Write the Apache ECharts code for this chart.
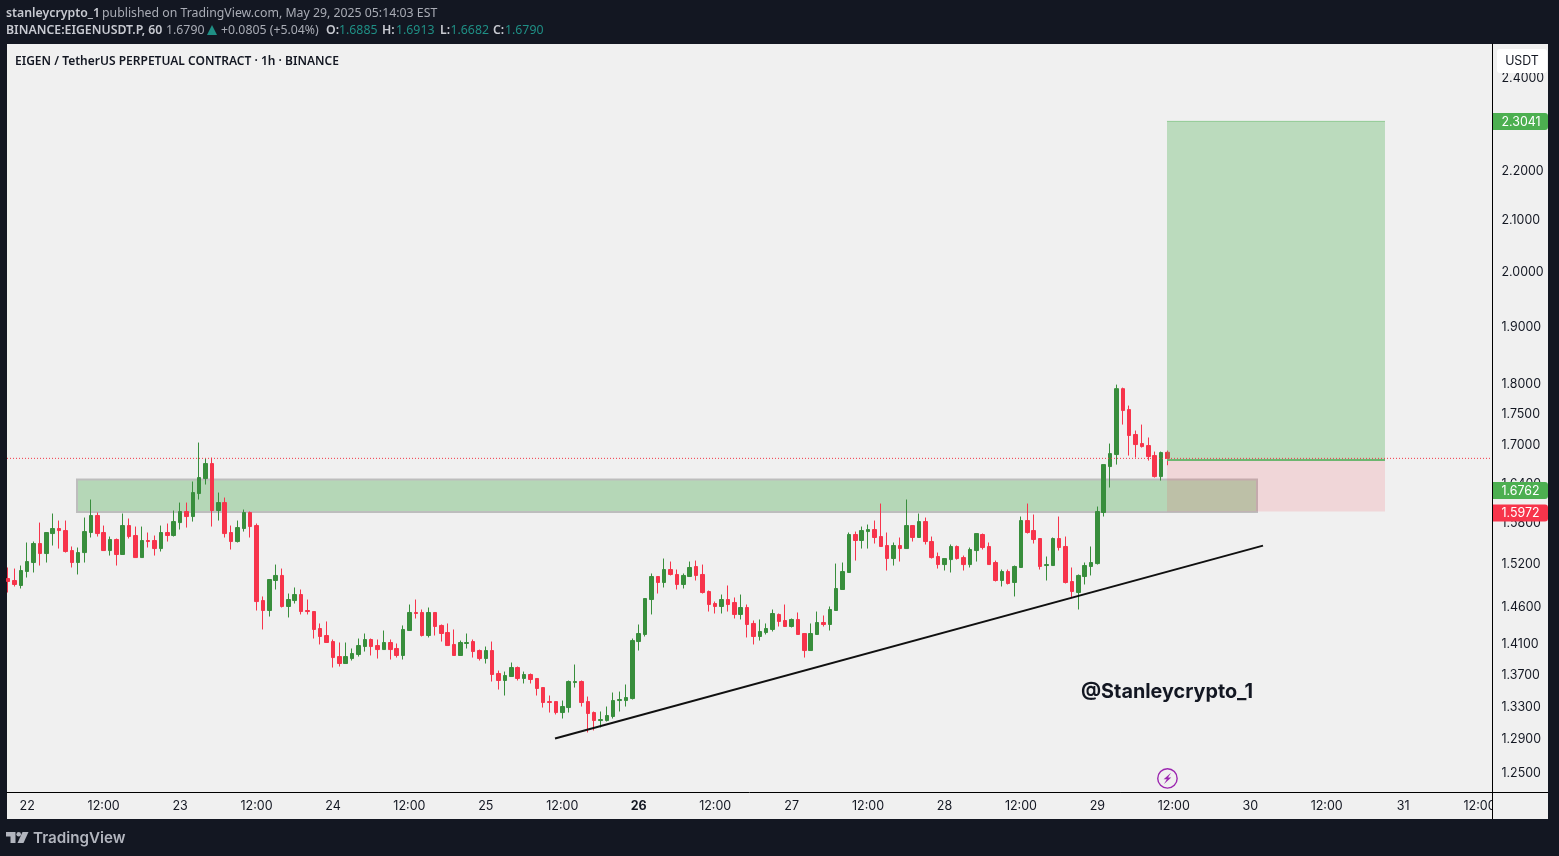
<!DOCTYPE html>
<html>
<head>
<meta charset="utf-8">
<title>EIGENUSDT.P 1h</title>
<style>
html,body{margin:0;padding:0;background:#131722;}
#sample{width:1559px;height:856px;}
</style>
<script src="https://cdn.jsdelivr.net/npm/echarts@6/dist/echarts.min.js"></script>
</head>
<body>
<div id="sample"></div>
<script>
// hourly candles, first one is 21 May 21:00 (hour -3 counted from 22 May 00:00)
var firstHour = -3;
var opens = [
	1.4998,1.4970,1.4900,1.5097,1.5225,1.5499,1.5354,1.5645,1.5719,1.5689,
	1.5397,1.5225,1.5368,1.5660,1.5912,1.5660,1.5397,1.5558,1.5340,1.5763,
	1.5616,1.5296,1.5543,1.5543,1.5426,1.5660,1.5616,1.5807,1.5972,1.5897,
	1.6244,1.6474,1.6708,1.5987,1.6107,1.5660,1.5528,1.5719,1.5957,1.5763,
	1.4691,1.4554,1.4970,1.5041,1.4609,1.4691,1.4774,1.4554,1.4540,1.4310,
	1.4216,1.4136,1.3938,1.3847,1.3912,1.3965,1.4070,1.4163,1.4083,1.4030,
	1.4123,1.4044,1.3952,1.4283,1.4527,1.4527,1.4216,1.4527,1.4351,1.4256,
	1.4097,1.3952,1.4110,1.4136,1.4017,1.3912,1.4017,1.3718,1.3628,1.3679,
	1.3795,1.3654,1.3705,1.3654,1.3538,1.3361,1.3361,1.3224,1.3286,1.3602,
	1.3615,1.3361,1.3224,1.3125,1.3125,1.3175,1.3374,1.3374,1.3399,1.4136,
	1.4230,1.4705,1.5026,1.4942,1.5125,1.5055,1.4914,1.5026,1.5168,1.5055,
	1.4816,1.4650,1.4609,1.4705,1.4664,1.4500,1.4595,1.4378,1.4203,1.4256,
	1.4297,1.4500,1.4418,1.4337,1.4432,1.4243,1.4017,1.4230,1.4391,1.4364,
	1.4554,1.4844,1.5083,1.5631,1.5543,1.5674,1.5704,1.5601,1.5470,1.5282,
	1.5470,1.5426,1.5763,1.5587,1.5822,1.5528,1.5311,1.5196,1.5267,1.5456,
	1.5296,1.5196,1.5397,1.5631,1.5456,1.5225,1.4970,1.5097,1.4942,1.5154,
	1.5837,1.5689,1.5572,1.5182,1.5182,1.5572,1.5456,1.4956,1.4802,1.5026,
	1.5168,1.5210,1.5957,1.6661,1.6850,1.7926,1.7577,1.7170,1.7025,1.6993,
	1.6834,1.6505,1.6885
];
var closes = [
	1.4956,1.4914,1.5111,1.5239,1.5499,1.5354,1.5660,1.5719,1.5689,1.5383,
	1.5225,1.5368,1.5674,1.5912,1.5645,1.5397,1.5558,1.5340,1.5763,1.5601,
	1.5296,1.5543,1.5528,1.5426,1.5660,1.5616,1.5822,1.5972,1.5897,1.6259,
	1.6490,1.6708,1.5987,1.6107,1.5645,1.5528,1.5733,1.5957,1.5748,1.4677,
	1.4554,1.4984,1.5041,1.4609,1.4705,1.4774,1.4540,1.4540,1.4297,1.4203,
	1.4123,1.3925,1.3847,1.3938,1.3978,1.4083,1.4163,1.4070,1.4030,1.4123,
	1.4030,1.3952,1.4297,1.4527,1.4513,1.4216,1.4527,1.4337,1.4243,1.4083,
	1.3952,1.4123,1.4123,1.4004,1.3912,1.4017,1.3705,1.3628,1.3692,1.3795,
	1.3654,1.3705,1.3641,1.3526,1.3349,1.3349,1.3224,1.3299,1.3615,1.3615,
	1.3349,1.3212,1.3125,1.3137,1.3187,1.3374,1.3387,1.3412,1.4149,1.4243,
	1.4719,1.5026,1.4942,1.5125,1.5055,1.4914,1.5041,1.5154,1.5041,1.4802,
	1.4636,1.4609,1.4705,1.4636,1.4500,1.4595,1.4364,1.4203,1.4270,1.4310,
	1.4513,1.4405,1.4337,1.4432,1.4230,1.4017,1.4243,1.4391,1.4364,1.4568,
	1.4858,1.5097,1.5631,1.5543,1.5689,1.5704,1.5587,1.5456,1.5282,1.5470,
	1.5426,1.5763,1.5587,1.5822,1.5528,1.5296,1.5196,1.5282,1.5456,1.5282,
	1.5196,1.5412,1.5645,1.5441,1.5196,1.4970,1.5097,1.4928,1.5168,1.5837,
	1.5660,1.5558,1.5168,1.5196,1.5572,1.5441,1.4942,1.4816,1.5041,1.5182,
	1.5225,1.5972,1.6692,1.6865,1.7926,1.7561,1.7154,1.7009,1.6977,1.6818,
	1.6505,1.6881,1.6790
];
var lows = [
	1.4802,1.4886,1.4858,1.5012,1.5083,1.5182,1.5225,1.5470,1.5426,1.5368,
	1.5154,1.5055,1.5225,1.5587,1.5601,1.5397,1.5325,1.5182,1.5340,1.5572,
	1.5296,1.5296,1.5441,1.5325,1.5383,1.5528,1.5601,1.5704,1.5733,1.5822,
	1.6153,1.6382,1.5748,1.5837,1.5587,1.5412,1.5514,1.5674,1.5587,1.4554,
	1.4297,1.4472,1.4844,1.4595,1.4459,1.4650,1.4500,1.4500,1.4176,1.4097,
	1.4123,1.3795,1.3808,1.3847,1.3886,1.3938,1.4004,1.3952,1.3912,1.4030,
	1.3899,1.3925,1.3899,1.4283,1.4445,1.4203,1.4190,1.4216,1.4136,1.4083,
	1.3952,1.3952,1.4044,1.3925,1.3886,1.3847,1.3615,1.3513,1.3437,1.3679,
	1.3628,1.3590,1.3590,1.3437,1.3286,1.3224,1.3200,1.3150,1.3224,1.3538,
	1.3299,1.2979,1.3003,1.3040,1.3113,1.3150,1.3237,1.3299,1.3387,1.4017,
	1.4203,1.4500,1.4788,1.4872,1.5041,1.4844,1.4858,1.5026,1.4970,1.4788,
	1.4540,1.4513,1.4513,1.4540,1.4445,1.4432,1.4190,1.4097,1.4149,1.4230,
	1.4270,1.4337,1.4337,1.4324,1.4230,1.3925,1.4017,1.4230,1.4337,1.4283,
	1.4554,1.4844,1.5083,1.5253,1.5426,1.5426,1.5499,1.5456,1.5111,1.5182,
	1.5239,1.5426,1.5528,1.5587,1.5485,1.5282,1.5139,1.5111,1.5083,1.5267,
	1.5111,1.5154,1.5239,1.5412,1.5196,1.4956,1.4886,1.4914,1.4747,1.5154,
	1.5645,1.5499,1.5125,1.4970,1.5182,1.5397,1.4928,1.4733,1.4568,1.4914,
	1.5041,1.5196,1.5897,1.6336,1.6692,1.7331,1.6834,1.6802,1.6961,1.6755,
	1.6490,1.6443,1.6682
];
var highs = [
	1.5154,1.5139,1.5182,1.5514,1.5528,1.5807,1.5660,1.5942,1.5837,1.5837,
	1.5456,1.5441,1.5882,1.6153,1.5957,1.5763,1.5601,1.5572,1.5942,1.5867,
	1.5748,1.5748,1.5660,1.5616,1.5763,1.5793,1.5987,1.6107,1.6107,1.6428,
	1.7041,1.6787,1.6802,1.6259,1.6183,1.5763,1.5837,1.6002,1.5972,1.5793,
	1.4747,1.4984,1.5196,1.5139,1.4788,1.4872,1.4844,1.4705,1.4540,1.4378,
	1.4405,1.4163,1.4123,1.4123,1.4044,1.4176,1.4243,1.4176,1.4163,1.4283,
	1.4163,1.4110,1.4351,1.4636,1.4705,1.4568,1.4595,1.4527,1.4364,1.4378,
	1.4297,1.4149,1.4243,1.4163,1.4030,1.4070,1.4136,1.3756,1.3743,1.3860,
	1.3808,1.3743,1.3718,1.3654,1.3538,1.3437,1.3361,1.3374,1.3628,1.3834,
	1.3628,1.3424,1.3237,1.3237,1.3299,1.3475,1.3487,1.3577,1.4176,1.4364,
	1.4719,1.5069,1.5026,1.5282,1.5239,1.5125,1.5069,1.5239,1.5253,1.5196,
	1.4830,1.4677,1.4774,1.4900,1.4733,1.4774,1.4636,1.4418,1.4432,1.4378,
	1.4568,1.4513,1.4636,1.4445,1.4527,1.4243,1.4378,1.4540,1.4486,1.4609,
	1.5210,1.5225,1.5660,1.5674,1.5748,1.5778,1.5837,1.6092,1.5660,1.5514,
	1.5587,1.6153,1.5763,1.5942,1.5882,1.5601,1.5368,1.5282,1.5485,1.5470,
	1.5325,1.5441,1.5645,1.5645,1.5514,1.5253,1.5125,1.5125,1.5182,1.5897,
	1.6092,1.5927,1.5572,1.5311,1.5587,1.5897,1.5601,1.5154,1.5055,1.5225,
	1.5456,1.6047,1.6692,1.7025,1.7994,1.7943,1.7643,1.7234,1.7331,1.7122,
	1.6897,1.6897,1.6913
];
var lastPrice = 1.6790;
var priceTicks = [2.4,2.2,2.1,2.0,1.9,1.8,1.75,1.7,1.64,1.58,1.52,1.46,1.41,1.37,1.33,1.29,1.25];
var hourTicks = [0,12,24,36,48,60,72,84,96,108,120,132,144,156,168,180,192,204,216,228];
var boldDay = 96;
var hourMin = -3.17;
var hourMax = 229.95;
var entryPrice = 1.6762;
var targetPrice = 2.3041;
var stopPrice = 1.5972;
var positionHours = [178.93,213.15];
var zoneHours = [7.82,193.06];
var zonePrices = [1.6458,1.5966];
var trendLine = [[82.86,1.2906],[194.0,1.5469]];
// the label of the entry is pushed down by the chart, so it sits lower than its price
var tagPrices = [2.3041,1.6290,1.5950];
var tagTexts = ['2.3041','1.6762','1.5972'];
var tagColors = ['#4caf50','#4caf50','#f7344b'];
var alertPoint = [179.0,1.2430];

var upColor = '#388e3c';
var downColor = '#f7344b';
var labelFont = 'Inter, "Noto Sans", sans-serif';
var headFont = '"Noto Sans", "Open Sans", sans-serif';
var headBold = '600 12.3px ' + headFont;
var headPlain = '12.3px ' + headFont;
var headName = '#c8cad1';
var headText = '#a9acb5';
var headValue = '#1f8f85';

var candles = [];
for(var i = 0;i < opens.length;i++){
	candles.push([firstHour + i,opens[i],closes[i],lows[i],highs[i]]);
}

function rectItem(api,x1,x2,p1,p2,style){
	var a = api.coord([x1,p1]);
	var b = api.coord([x2,p2]);
	return {
		type:'rect',
		shape:{x:a[0],y:a[1],width:b[0] - a[0],height:b[1] - a[1]},
		style:style
	};
}

function renderZones(params,api){
	return rectItem(api,zoneHours[0],zoneHours[1],zonePrices[0],zonePrices[1],{fill:'#b5d7b7',stroke:'#bdbdbd',lineWidth:2});
}

function hLine(api,price,stroke,width){
	var a = api.coord([positionHours[0],price]);
	var b = api.coord([positionHours[1],price]);
	return {type:'line',shape:{x1:a[0],y1:a[1],x2:b[0],y2:b[1]},style:{stroke:stroke,lineWidth:width}};
}

function renderPosition(params,api){
	return {
		type:'group',
		children:[
			rectItem(api,positionHours[0],positionHours[1],targetPrice,entryPrice,{fill:'rgba(76,175,80,0.32)'}),
			rectItem(api,positionHours[0],positionHours[1],entryPrice,stopPrice,{fill:'rgba(242,54,69,0.14)'}),
			hLine(api,targetPrice,'rgba(76,175,80,0.5)',1),
			hLine(api,entryPrice,'#6db670',2)
		]
	};
}

function renderTick(params,api){
	var pt = api.coord([0,api.value(1)]);
	return {
		type:'text',
		style:{x:1501.5,y:pt[1] + 0.5,text:api.value(1).toFixed(4),fill:'#131722',font:'12.4px ' + labelFont,textVerticalAlign:'middle',textAlign:'left'}
	};
}

function renderTag(params,api){
	var i = params.dataIndex;
	var pt = api.coord([0,tagPrices[i]]);
	return {
		type:'group',
		children:[
			{type:'rect',shape:{x:1493,y:pt[1] - 8.5,width:55,height:17,r:[0,3,3,0]},style:{fill:tagColors[i]}},
			{type:'text',style:{x:1501.5,y:pt[1] + 0.5,text:tagTexts[i],fill:'#ffffff',font:'12.4px ' + labelFont,textVerticalAlign:'middle',textAlign:'left'}}
		]
	};
}

function renderAlert(params,api){
	var pt = api.coord([api.value(0),api.value(1)]);
	var x = pt[0],y = pt[1];
	return {
		type:'group',
		children:[
			{type:'circle',shape:{cx:x,cy:y,r:9.7},style:{fill:'none',stroke:'#9c27b0',lineWidth:1.4}},
			{type:'polygon',shape:{points:[[x + 3.6,y - 5.6],[x - 3.8,y + 0.8],[x - 0.6,y + 0.8],[x - 3.4,y + 5.6],[x + 3.8,y - 1],[x + 0.6,y - 1]]},style:{fill:'#9c27b0'}}
		]
	};
}

function headItem(x,y,text,font,fill){
	return {type:'text',z:10,silent:true,style:{x:x,y:y,text:text,font:font,fill:fill,textVerticalAlign:'middle'}};
}

var myChart = echarts.init(document.getElementById('sample'),null,{renderer:'canvas'});
myChart.setOption({
	animation:false,
	backgroundColor:'#131722',
	grid:{left:7,right:67,top:44,bottom:64,show:false},
	xAxis:{
		type:'value',
		min:hourMin,
		max:hourMax,
		splitLine:{show:false},
		axisTick:{show:false},
		axisLine:{show:true,lineStyle:{color:'#000000',width:1}},
		axisLabel:{
			customValues:hourTicks,
			margin:8,
			color:'#131722',
			fontFamily:labelFont,
			fontSize:12.5,
			formatter:function(value){
				if(value % 24 != 0){
					return '12:00';
				}
				var day = String(22 + value / 24);
				return value == boldDay ? '{b|' + day + '}' : day;
			},
			rich:{b:{fontWeight:'bold',fontFamily:labelFont,fontSize:12.5,color:'#131722'}}
		}
	},
	yAxis:{
		type:'log',
		logBase:Math.E,
		min:1.2273,
		max:2.4778,
		position:'right',
		splitLine:{show:false},
		axisTick:{show:false},
		minorTick:{show:false},
		axisLabel:{show:false},
		axisLine:{show:true,onZero:false,lineStyle:{color:'#000000',width:1}}
	},
	graphic:[
		{type:'rect',z:-1,silent:true,shape:{x:7,y:44,width:1541,height:775},style:{fill:'#f0f0f0'}},
		{type:'rect',z:50,silent:true,shape:{x:1493,y:44,width:55,height:775},style:{fill:'#f0f0f0'}},
		{type:'line',z:51,silent:true,shape:{x1:1492.5,y1:44,x2:1492.5,y2:819},style:{stroke:'#000000',lineWidth:1}},
		{type:'line',z:51,silent:true,shape:{x1:1492,y1:792.5,x2:1548,y2:792.5},style:{stroke:'#000000',lineWidth:1}},
		{type:'rect',z:150,silent:true,shape:{x:1497,y:49,width:50,height:24,r:3},style:{fill:'#ffffff'}},
		{type:'text',z:151,silent:true,style:{x:1522,y:61,text:'USDT',fill:'#131722',font:'12.4px ' + labelFont,textAlign:'center',textVerticalAlign:'middle'}},
		headItem(15,61.5,'EIGEN / TetherUS PERPETUAL CONTRACT · 1h · BINANCE','600 12.02px ' + headFont,'#131722'),
		headItem(1081,692.5,'@Stanleycrypto_1','bold 19.8px ' + labelFont,'#131722'),
		headItem(6,13,'stanleycrypto_1',headBold,headName),
		headItem(102,13,'published on TradingView.com, May 29, 2025 05:14:03 EST',headPlain,headText),
		headItem(6,30,'BINANCE:EIGENUSDT.P, 60',headBold,headName),
		headItem(166,30,'1.6790',headPlain,headText),
		{type:'polygon',z:10,silent:true,shape:{points:[[207,35],[217,35],[212,25]]},style:{fill:headValue}},
		headItem(221,30,'+0.0805 (+5.04%)',headPlain,headText),
		headItem(326,30,'O:',headBold,headName),
		headItem(339,30,'1.6885',headPlain,headValue),
		headItem(382,30,'H:',headBold,headName),
		headItem(396,30,'1.6913',headPlain,headValue),
		headItem(440,30,'L:',headBold,headName),
		headItem(450.5,30,'1.6682',headPlain,headValue),
		headItem(493,30,'C:',headBold,headName),
		headItem(505,30,'1.6790',headPlain,headValue),
		{type:'polygon',z:10,silent:true,shape:{points:[[6,832],[15.5,832],[15.5,843],[10.5,843],[10.5,836.5],[6,836.5]]},style:{fill:'#b2b5be'}},
		{type:'circle',z:10,silent:true,shape:{cx:18.7,cy:834.2,r:2.3},style:{fill:'#b2b5be'}},
		{type:'polygon',z:10,silent:true,shape:{points:[[22.5,832],[28.5,832],[23.5,843],[17.5,843]]},style:{fill:'#b2b5be'}},
		headItem(33,838,'TradingView','600 15.2px ' + labelFont,'#b2b5be')
	],
	series:[
		{
			type:'custom',
			name:'zone',
			z:1,
			silent:true,
			coordinateSystem:'cartesian2d',
			data:[[zoneHours[0],zonePrices[0]]],
			renderItem:renderZones
		},
		{
			type:'candlestick',
			name:'EIGENUSDT.P',
			z:2,
			barWidth:4,
			data:candles,
			itemStyle:{
				color:upColor,
				color0:downColor,
				borderColor:upColor,
				borderColor0:downColor,
				borderWidth:1
			}
		},
		{
			type:'custom',
			name:'position',
			z:3,
			silent:true,
			coordinateSystem:'cartesian2d',
			data:[[positionHours[0],entryPrice]],
			renderItem:renderPosition
		},
		{
			type:'line',
			name:'last',
			z:4,
			silent:true,
			symbol:'none',
			data:[[hourMin,lastPrice],[hourMax,lastPrice]],
			lineStyle:{color:'#f23645',type:[1,2],width:1}
		},
		{
			type:'line',
			name:'trend',
			z:4,
			silent:true,
			symbol:'none',
			data:trendLine,
			lineStyle:{color:'#101010',width:2}
		},
		{
			type:'custom',
			name:'priceTicks',
			z:60,
			silent:true,
			coordinateSystem:'cartesian2d',
			data:priceTicks.map(function(p){return [0,p];}),
			renderItem:renderTick
		},
		{
			type:'custom',
			name:'tags',
			z:70,
			silent:true,
			coordinateSystem:'cartesian2d',
			data:tagPrices.map(function(p){return [0,p];}),
			renderItem:renderTag
		},
		{
			type:'custom',
			name:'alert',
			z:5,
			silent:true,
			coordinateSystem:'cartesian2d',
			data:[alertPoint],
			renderItem:renderAlert
		}
	]
});
</script>
</body>
</html>
